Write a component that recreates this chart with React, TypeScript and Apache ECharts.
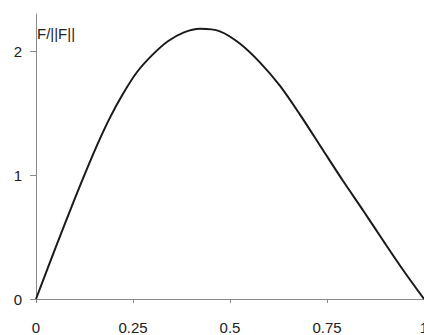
import React, { useEffect, useRef } from "react";
import * as echarts from "echarts";

const xValues = [0, 0.05, 0.1, 0.13, 0.16, 0.19, 0.225, 0.26, 0.3, 0.34, 0.38, 0.423, 0.474, 0.526, 0.577, 0.629, 0.68, 0.74, 0.792, 0.844, 0.895, 0.947, 1];
const yValues = [0, 0.41, 0.81, 1.04, 1.26, 1.46, 1.66, 1.83, 1.97, 2.08, 2.15, 2.18, 2.16, 2.06, 1.91, 1.72, 1.49, 1.2, 0.95, 0.71, 0.47, 0.23, 0];
const yTicks = [0, 1, 2];
const yTitle = "F/||F||";

const FONT = "'Liberation Sans', Arial, sans-serif";

export default function App() {
  const ref = useRef<HTMLDivElement>(null);
  useEffect(() => {
    if (!ref.current) return;
    const chart = echarts.init(ref.current, null, { renderer: "svg" });
    chart.setOption({
      animation: false,
      backgroundColor: "#ffffff",
      grid: { left: 36, right: 0, top: 14, bottom: 36, outerBoundsMode: "none", containLabel: false },
      xAxis: {
        type: "value",
        min: 0,
        max: 1,
        interval: 0.25,
        splitLine: { show: false },
        axisLine: { lineStyle: { color: "#8a8a8a", width: 1 } },
        axisTick: { show: true, length: 4, inside: false, lineStyle: { color: "#8a8a8a" } },
        axisLabel: {
          margin: 21,
          fontSize: 15,
          fontFamily: FONT,
          color: "#222",
          formatter: (v: number) => String(v),
        },
      },
      yAxis: {
        type: "value",
        min: 0,
        max: 2.3,
        splitLine: { show: false },
        axisLine: { show: true, lineStyle: { color: "#8a8a8a", width: 1 } },
        axisTick: { show: true, length: 6, customValues: yTicks, lineStyle: { color: "#8a8a8a" } },
        axisLabel: {
          margin: 14,
          fontSize: 15,
          fontFamily: FONT,
          color: "#222",
          customValues: yTicks,
        },
      },
      graphic: [
        {
          type: "text",
          left: 37,
          top: 26,
          style: { text: yTitle, fontSize: 15, fontFamily: FONT, fill: "#222" },
        },
      ],
      series: [
        {
          type: "line",
          data: xValues.map((x, i) => [x, yValues[i]]),
          smooth: 0.3,
          showSymbol: false,
          lineStyle: { color: "#1a1a1a", width: 2 },
        },
      ],
    });
    return () => chart.dispose();
  }, []);
  return (
    <div
      ref={ref}
      style={{ position: "fixed", left: 0, top: 0, width: 424, height: 335, background: "#fff" }}
    />
  );
}
